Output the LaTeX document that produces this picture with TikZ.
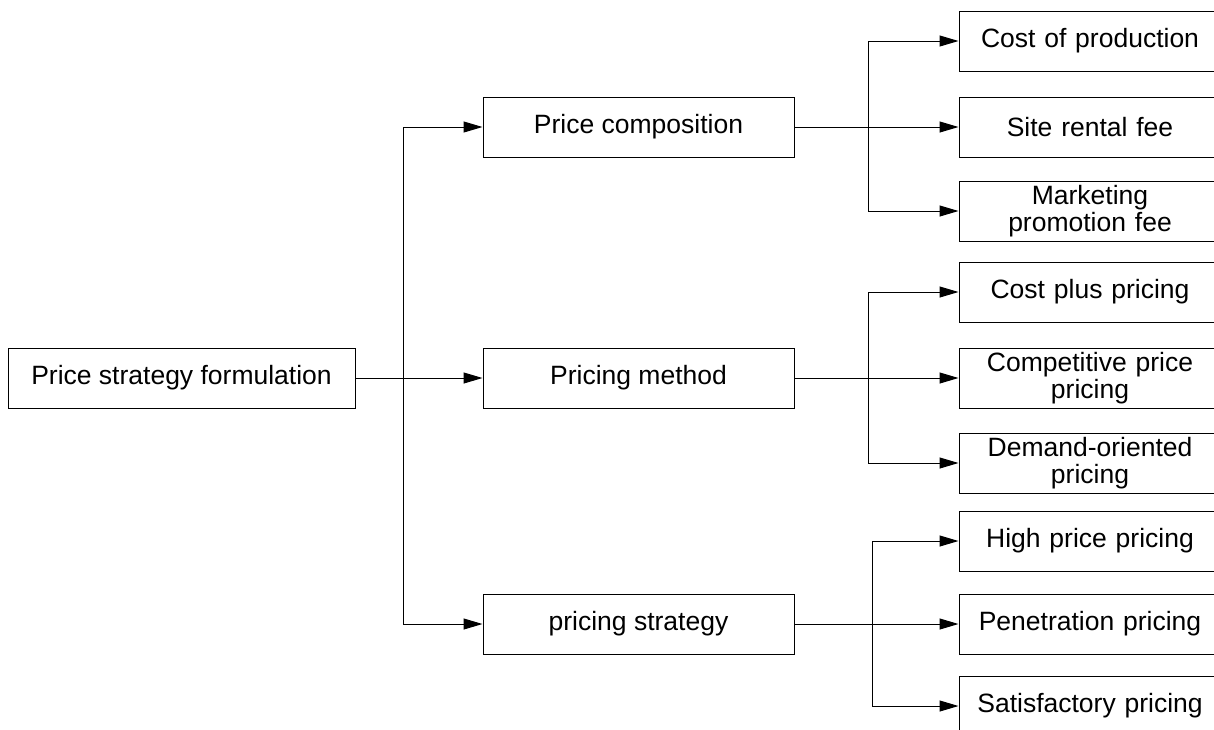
\documentclass[tikz,border=0pt]{standalone}
\usepackage{fontspec}
\setmainfont{Liberation Sans}
\usepackage{tikz}
\usetikzlibrary{arrows.meta, positioning, calc}
\tikzset{
    block/.style={rectangle, draw, line width=1pt, align=center, inner sep=1pt, minimum height=60pt, font=\fontsize{26.5}{27}\selectfont},
    rootbox/.style={block, minimum width=347pt},
    midbox/.style={block, minimum width=311pt},
    leafbox/.style={block, minimum width=262pt, text width=255pt},
    arrow/.style={line width=1pt, -{Triangle[length=19pt, width=11pt]}}
}
\begin{document}
\begin{tikzpicture}[x=1pt, y=-1pt]
    \useasboundingbox (0,0) rectangle (1214,729);

    % Root
    \node (root) [rootbox] at (181.5,378) {Price strategy formulation};

    % Second level
    \node (method) [midbox, right=127pt of root] {Pricing method};
    \node (comp) [midbox, above=190pt of method] {Price composition};
    \node (strat) [midbox, below=185pt of method] {pricing strategy};

    % Leaves of price composition
    \node (site) [leafbox, right=164pt of comp] {Site rental fee};
    \node (cost) [leafbox, above=25pt of site] {Cost of production};
    \node (mkt) [leafbox, below=23pt of site] {Marketing\\promotion fee};

    % Leaves of pricing method
    \node (compet) [leafbox, right=164pt of method] {Competitive price\\pricing};
    \node (costplus) [leafbox, above=25pt of compet] {Cost plus pricing};
    \node (demand) [leafbox, below=24pt of compet] {Demand-oriented\\pricing};

    % Leaves of pricing strategy
    \node (penet) [leafbox, right=164pt of strat] {Penetration pricing};
    \node (high) [leafbox, above=22pt of penet] {High price pricing};
    \node (satis) [leafbox, below=21pt of penet] {Satisfactory pricing};

    % Junctions
    \coordinate (jroot) at ($(root.east)+(48,0)$);
    \coordinate (jcomp) at ($(comp.east)+(74,0)$);
    \coordinate (jmeth) at ($(method.east)+(74,0)$);
    \coordinate (jstrat) at ($(strat.east)+(78,0)$);

    % Root to second level
    \draw [arrow] (root) -- (method);
    \draw [arrow] (jroot) |- (comp);
    \draw [arrow] (jroot) |- (strat);

    % Price composition
    \draw [arrow] (comp) -- (site);
    \draw [arrow] (jcomp) |- (cost);
    \draw [arrow] (jcomp) |- (mkt);

    % Pricing method
    \draw [arrow] (method) -- (compet);
    \draw [arrow] (jmeth) |- (costplus);
    \draw [arrow] (jmeth) |- (demand);

    % Pricing strategy
    \draw [arrow] (strat) -- (penet);
    \draw [arrow] (jstrat) |- (high);
    \draw [arrow] (jstrat) |- (satis);

\end{tikzpicture}
\end{document}
